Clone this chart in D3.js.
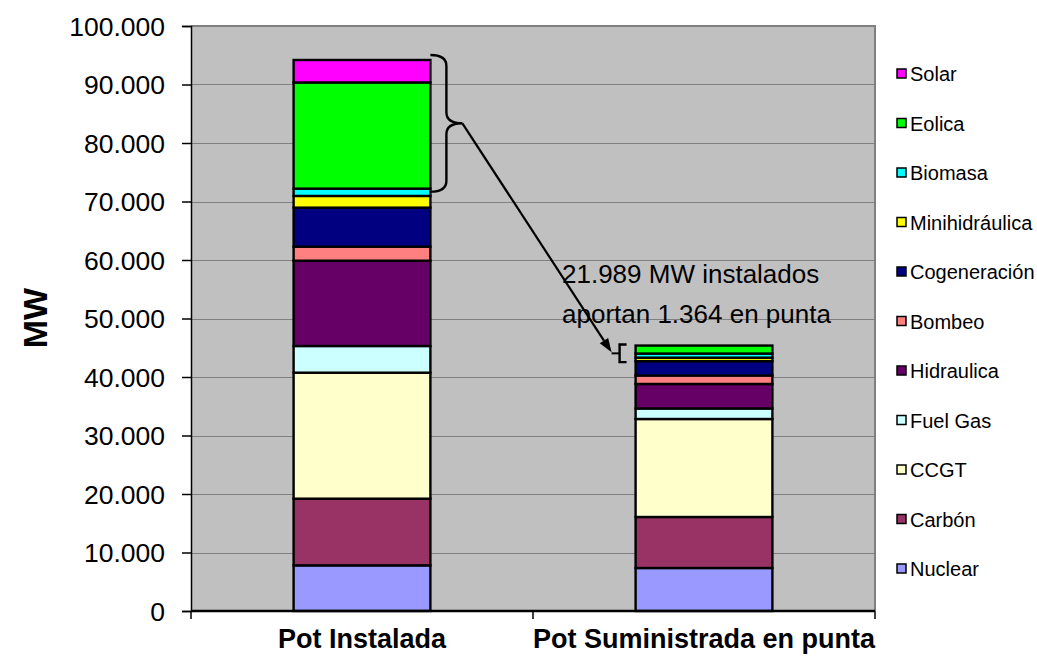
<!DOCTYPE html>
<html>
<head>
<meta charset="utf-8">
<script src="https://cdn.jsdelivr.net/npm/d3@7"></script>
<style>
  html, body { margin: 0; padding: 0; background: #ffffff; }
  svg { display: block; font-family: "Liberation Sans", Arial, sans-serif; }
</style>
</head>
<body>
<svg id="chart" width="1037" height="656"></svg>
<script>
// ---- data ----
const categories = ["Pot Instalada", "Pot Suministrada en punta"];
const series = ["Nuclear", "Carbón", "CCGT", "Fuel Gas", "Hidraulica", "Bombeo",
                "Cogeneración", "Minihidráulica", "Biomasa", "Eolica", "Solar"];
const instalada = [7800, 11400, 21540, 4560, 14580, 2400, 6670, 2000, 1250, 18150, 3840];
const punta     = [7350, 8720, 16750, 1800, 4190, 1450, 2450, 600, 700, 1364, 0];
const colors = ["#9999FF", "#993366", "#FFFFCC", "#CCFFFF", "#660066", "#FF8080",
                "#000080", "#FFFF00", "#00FFFF", "#00FF00", "#FF00FF"];
const yTicks = [0, 10000, 20000, 30000, 40000, 50000, 60000, 70000, 80000, 90000, 100000];
const annotationLines = ["21.989 MW instalados", "aportan 1.364 en punta"];
const yTitle = "MW";

// ---- layout ----
const pLeft = 191, pRight = 875, pTop = 26, pBottom = 611;
const svg = d3.select("#chart");

const x = d3.scaleBand().domain(categories).range([pLeft, pRight])
  .paddingInner(0.6).paddingOuter(0.3);
const y = d3.scaleLinear().domain([0, 100000]).range([pBottom, pTop]);
const color = d3.scaleOrdinal().domain(series).range(colors);
const loc = d3.formatLocale({decimal: ",", thousands: ".", grouping: [3], currency: ["", "€"]});
const fmt = loc.format(",.0f");

// table for stacking
const table = categories.map((c, i) => {
  const row = {cat: c};
  series.forEach((s, j) => row[s] = (i === 0 ? instalada : punta)[j]);
  return row;
});
const stacked = d3.stack().keys(series)(table);

// plot background
svg.append("rect").attr("x", pLeft).attr("y", pTop)
  .attr("width", pRight - pLeft).attr("height", pBottom - pTop).attr("fill", "#C0C0C0");

// gridlines
svg.append("g").selectAll("line").data(yTicks.filter(t => t > 0 && t < 100000)).join("line")
  .attr("x1", pLeft).attr("x2", pRight)
  .attr("y1", d => Math.round(y(d)) + 0.5).attr("y2", d => Math.round(y(d)) + 0.5)
  .attr("stroke", "#808080").attr("stroke-width", 1);

// plot frame top/right
svg.append("path")
  .attr("d", `M${pLeft},${pTop} L${pRight},${pTop} L${pRight},${pBottom}`)
  .attr("fill", "none").attr("stroke", "#808080").attr("stroke-width", 2);

// bars
svg.append("g").selectAll("g").data(stacked).join("g")
  .attr("fill", d => color(d.key))
  .selectAll("rect").data(d => d).join("rect")
  .attr("x", d => x(d.data.cat))
  .attr("width", x.bandwidth())
  .attr("y", d => y(d[1]))
  .attr("height", d => y(d[0]) - y(d[1]))
  .attr("stroke", "#000").attr("stroke-width", 2.4);

// y axis
const yAxis = svg.append("g").attr("transform", `translate(${pLeft},0)`)
  .call(d3.axisLeft(y).tickValues(yTicks).tickFormat(fmt).tickSize(9).tickPadding(17));
yAxis.select(".domain").attr("stroke", "#000").attr("stroke-width", 1.5);
yAxis.selectAll(".tick line").attr("stroke", "#000").attr("stroke-width", 1.5);
yAxis.selectAll(".tick text").attr("font-size", 26.5).attr("fill", "#000")
  .attr("font-family", "'Liberation Sans', Arial, sans-serif").attr("dy", "0.35em");

// x axis
const xAxisG = svg.append("g");
xAxisG.append("line").attr("x1", pLeft).attr("x2", pRight).attr("y1", pBottom).attr("y2", pBottom)
  .attr("stroke", "#000").attr("stroke-width", 2.5);
const sep = [pLeft, (x(categories[0]) + x.bandwidth() + x(categories[1])) / 2, pRight];
xAxisG.selectAll("line.t").data(sep).join("line").attr("class", "t")
  .attr("x1", d => d).attr("x2", d => d).attr("y1", pBottom).attr("y2", pBottom + 8)
  .attr("stroke", "#000").attr("stroke-width", 1.5);
xAxisG.selectAll("text").data(categories).join("text")
  .attr("x", d => x(d) + x.bandwidth() / 2).attr("y", 648)
  .attr("text-anchor", "middle").attr("font-weight", "bold").attr("font-size", 27)
  .text(d => d);

// y title
svg.append("text").attr("transform", "translate(47,318) rotate(-90)")
  .attr("text-anchor", "middle").attr("font-weight", "bold").attr("font-size", 34)
  .text(yTitle);

// legend
const legendSeries = series.slice().reverse();
const lg = svg.append("g").selectAll("g").data(legendSeries).join("g")
  .attr("transform", (d, i) => `translate(897,${74 + i * 49.5})`);
lg.append("rect").attr("x", 0).attr("y", -5).attr("width", 9).attr("height", 9)
  .attr("fill", d => color(d)).attr("stroke", "#000").attr("stroke-width", 1.5);
lg.append("text").attr("x", 13).attr("y", 0).attr("dy", "0.36em")
  .attr("font-size", 20).attr("fill", "#000").text(d => d);

// annotation: brace on installed bar
const i0 = categories[0], i1 = categories[1];
const bar0Right = x(i0) + x.bandwidth();
const total0 = d3.sum(instalada);
const idxBio = series.indexOf("Biomasa");
const baseRen0 = d3.sum(instalada.slice(0, idxBio + 1));
const yb0 = y(total0) - 5, yb1 = y(baseRen0) + 3;
const ym = (yb0 + yb1) / 2;
const x1b = bar0Right + 16, x2b = bar0Right + 32, r = 11;
svg.append("path")
  .attr("d", `M${bar0Right},${yb0} Q${x1b},${yb0} ${x1b},${yb0 + r} L${x1b},${ym - r} Q${x1b},${ym} ${x2b},${ym} Q${x1b},${ym} ${x1b},${ym + r} L${x1b},${yb1 - r} Q${x1b},${yb1} ${bar0Right},${yb1}`)
  .attr("fill", "none").attr("stroke", "#000").attr("stroke-width", 2.4);

// small bracket on peak bar
const bar1Left = x(i1);
const total1 = d3.sum(punta);
const idxMini = series.indexOf("Minihidráulica");
const base1 = d3.sum(punta.slice(0, idxMini));
const bk0 = y(total1) - 1, bk1 = y(base1) + 1;
const bkx = bar1Left - 16;
svg.append("path")
  .attr("d", `M${bkx + 7},${bk0} L${bkx},${bk0} L${bkx},${bk1} L${bkx + 7},${bk1}`)
  .attr("fill", "none").attr("stroke", "#000").attr("stroke-width", 2.4);
const bkm = (bk0 + bk1) / 2;
const tipX = bkx - 8, tipY = bkm - 1;
svg.append("line").attr("x1", tipX).attr("x2", bkx).attr("y1", tipY + 1).attr("y2", tipY + 1)
  .attr("stroke", "#000").attr("stroke-width", 2);
// arrow line + head
const ang = Math.atan2(tipY - ym, tipX - x2b);
const hl = 14, hw = 5;
const bx = tipX - hl * Math.cos(ang), by = tipY - hl * Math.sin(ang);
svg.append("line").attr("x1", x2b).attr("y1", ym).attr("x2", bx).attr("y2", by)
  .attr("stroke", "#000").attr("stroke-width", 2.2);
svg.append("path")
  .attr("d", `M${tipX},${tipY} L${bx + hw * Math.sin(ang)},${by - hw * Math.cos(ang)} L${bx - hw * Math.sin(ang)},${by + hw * Math.cos(ang)} Z`)
  .attr("fill", "#000");

// annotation text
svg.append("g").selectAll("text").data(annotationLines).join("text")
  .attr("x", 562).attr("y", (d, i) => 283 + i * 39.5)
  .attr("font-size", 26).attr("fill", "#000").text(d => d);
</script>
</body>
</html>
